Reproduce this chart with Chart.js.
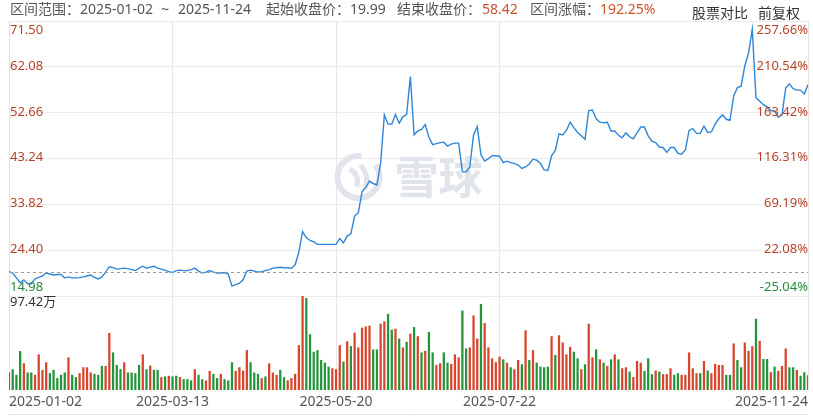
<!DOCTYPE html>
<html>
<head>
<meta charset="utf-8">
<script src="https://cdn.jsdelivr.net/npm/chart.js@4.4.1/dist/chart.umd.min.js"></script>
<style>
html, body { margin: 0; padding: 0; background: #fff; }
#wrap { position: relative; width: 813px; height: 416px; overflow: hidden; font-family: "Noto Sans", "Noto Sans CJK SC", sans-serif; }
#wrap canvas { position: absolute; left: 0; top: 0; }
.hd { position: absolute; top: 1px; font-size: 14px; line-height: 16px; color: #555; white-space: nowrap; }
.hd.up { color: #d0502c; }
.hd.tool { top: 5px; color: #333; }
</style>
</head>
<body>
<div id="wrap">
  <canvas id="kChart" width="813" height="416"></canvas>
  <span class="hd" style="left:10px">区间范围：</span>
  <span class="hd" style="left:80px">2025-01-02</span>
  <span class="hd" style="left:161px">~</span>
  <span class="hd" style="left:178px">2025-11-24</span>
  <span class="hd" style="left:266px">起始收盘价：</span>
  <span class="hd" style="left:350px">19.99</span>
  <span class="hd" style="left:397px">结束收盘价：</span>
  <span class="hd up" style="left:482px">58.42</span>
  <span class="hd" style="left:530px">区间涨幅：</span>
  <span class="hd up" style="left:600px">192.25%</span>
  <span class="hd tool" style="left:692px">股票对比</span>
  <span class="hd tool" style="left:758px">前复权</span>
</div>
<script>
// 区间数据 (前复权收盘价, 成交量 单位: 万)
const startClose = 19.99;
const priceTicks = [14.98, 24.40, 33.82, 43.24, 52.66, 62.08, 71.50];
const pctTicks = ['-25.04%', '22.08%', '69.19%', '116.31%', '163.42%', '210.54%', '257.66%'];
const volMax = 97.42;
const xTickIdx = [0, 44, 88, 132, 215];
const xTickText = ['2025-01-02', '2025-03-13', '2025-05-20', '2025-07-22', '2025-11-24'];

const closes = [
  19.99, 19.7, 18.7, 17.7, 18.3, 17.5, 17.5, 18.5, 18.8, 19.1,
  19.7, 19.5, 19.3, 19.4, 19.4, 18.7, 18.9, 18.7, 18.7, 18.75,
  18.9, 19.1, 19.3, 18.8, 18.5, 18.9, 19.9, 21.0, 20.8, 20.5,
  20.6, 20.7, 20.6, 20.4, 20.2, 20.7, 21.1, 20.7, 20.9, 21.1,
  20.7, 20.5, 20.3, 20.0, 19.8, 20.2, 20.3, 20.2, 20.2, 20.4,
  20.7, 20.1, 19.7, 19.9, 20.2, 19.9, 19.7, 19.7, 19.8, 19.5,
  17.0, 17.3, 17.6, 18.3, 20.1, 20.3, 20.1, 19.9, 20.0, 20.2,
  20.4, 20.7, 20.8, 20.9, 20.8, 20.8, 20.7, 21.4, 24.0, 28.2,
  27.0, 26.4, 26.1, 25.6, 25.6, 25.6, 25.6, 25.6, 25.6, 26.8,
  25.9, 27.3, 27.8, 31.4, 32.1, 36.4, 37.3, 38.6, 38.1, 37.8,
  42.3, 52.2, 50.3, 50.3, 52.3, 50.5, 51.8, 52.3, 60.1, 48.1,
  48.9, 49.2, 50.2, 47.6, 46.1, 46.3, 46.5, 46.6, 45.8, 46.2,
  46.4, 46.4, 40.5, 40.5, 41.5, 48.1, 49.8, 44.0, 42.7, 43.2,
  43.8, 43.8, 43.7, 42.4, 42.7, 42.4, 42.2, 41.9, 41.2, 41.5,
  42.1, 43.1, 42.9, 42.2, 40.9, 40.8, 43.8, 44.9, 48.3, 48.1,
  49.0, 50.7, 49.6, 48.6, 47.9, 47.2, 53.1, 53.2, 51.4, 50.7,
  50.6, 50.7, 48.9, 48.9, 48.0, 47.5, 48.5, 47.7, 47.3, 48.5,
  49.7, 49.7, 47.9, 46.8, 46.5, 45.6, 45.5, 44.5, 45.5, 45.5,
  44.3, 44.1, 45.0, 49.0, 49.4, 48.4, 48.4, 49.9, 48.6, 48.7,
  50.3, 51.4, 52.2, 51.3, 51.1, 56.1, 57.8, 58.1, 62.3, 64.9,
  69.8, 55.7, 55.0, 54.3, 53.8, 53.1, 53.0, 51.7, 52.2, 57.7,
  58.6, 57.6, 57.3, 57.3, 56.5, 58.42
];

const volumes = [
  17.8, 21.2, 15.4, 40.0, 27.3, 17.8, 17.8, 15.4, 36.6, 20.5,
  28.4, 17.1, 20.5, 12.0, 15.4, 17.8, 33.5, 15.4, 13.0, 17.1,
  23.2, 23.2, 17.8, 16.4, 15.4, 24.6, 24.6, 58.8, 38.6, 25.6,
  21.2, 28.4, 17.8, 17.8, 17.1, 25.6, 36.6, 21.2, 25.0, 20.5,
  20.5, 13.0, 13.7, 14.4, 13.7, 14.4, 13.0, 10.9, 10.9, 9.6,
  21.2, 15.4, 10.9, 9.6, 19.5, 16.4, 12.0, 16.4, 10.9, 9.6,
  28.4, 19.5, 23.2, 19.8, 41.0, 28.4, 17.8, 16.4, 12.0, 13.7,
  27.3, 17.8, 15.4, 20.5, 13.0, 9.6, 12.0, 16.4, 46.1, 97.42,
  95.0, 57.4, 39.3, 41.0, 30.8, 28.0, 23.9, 22.2, 21.2, 46.1,
  29.1, 50.2, 45.1, 59.1, 43.8, 64.3, 65.6, 66.3, 41.7, 41.7,
  68.4, 70.8, 78.6, 62.2, 63.2, 53.0, 43.8, 49.6, 58.1, 64.9,
  55.4, 38.6, 40.3, 59.8, 38.6, 25.6, 27.3, 38.6, 28.0, 26.7,
  36.6, 33.5, 82.0, 42.7, 43.8, 76.9, 53.0, 88.9, 69.0, 43.8,
  32.5, 28.4, 34.2, 31.4, 28.0, 23.2, 21.2, 30.8, 26.3, 61.5,
  30.8, 41.0, 28.0, 23.9, 23.2, 23.9, 55.4, 35.9, 56.4, 48.9,
  36.6, 44.4, 39.3, 32.5, 21.2, 26.3, 68.4, 33.5, 41.7, 31.4,
  28.0, 24.6, 31.4, 36.6, 31.4, 22.2, 23.2, 18.8, 13.0, 29.7,
  28.0, 19.5, 32.5, 16.1, 19.8, 18.8, 16.1, 16.1, 22.2, 15.4,
  17.1, 15.4, 15.4, 38.6, 22.2, 17.1, 17.1, 29.7, 19.8, 17.1,
  26.7, 25.6, 25.6, 15.4, 15.4, 47.9, 30.8, 23.2, 48.9, 40.3,
  45.1, 73.5, 50.6, 31.8, 31.8, 18.1, 23.9, 19.5, 24.6, 42.7,
  23.2, 23.2, 20.5, 14.4, 18.1, 15.0
];

// 1 = 红柱(上涨), 0 = 绿柱(下跌)
const upDays = [
  1, 0, 0, 0, 1, 0, 0, 1, 1, 1,
  1, 0, 0, 0, 0, 0, 1, 0, 0, 1,
  1, 1, 1, 0, 0, 0, 1, 1, 0, 0,
  0, 1, 0, 0, 0, 0, 1, 0, 1, 0,
  0, 1, 0, 1, 0, 0, 1, 0, 0, 0,
  1, 0, 0, 1, 1, 0, 0, 1, 0, 0,
  0, 1, 1, 1, 1, 0, 0, 0, 1, 0,
  1, 1, 1, 0, 0, 1, 1, 1, 1, 1,
  0, 0, 0, 0, 0, 0, 0, 1, 1, 1,
  0, 1, 0, 1, 1, 1, 1, 1, 0, 0,
  1, 1, 0, 0, 1, 0, 1, 0, 1, 0,
  1, 0, 1, 0, 0, 1, 1, 0, 0, 1,
  1, 1, 0, 0, 1, 1, 1, 0, 1, 1,
  1, 1, 1, 0, 1, 0, 1, 1, 0, 1,
  0, 1, 0, 0, 0, 0, 1, 0, 1, 1,
  1, 1, 0, 0, 1, 0, 1, 1, 0, 1,
  0, 1, 0, 1, 0, 1, 1, 0, 1, 1,
  1, 0, 0, 0, 1, 0, 1, 1, 1, 0,
  0, 1, 1, 1, 1, 1, 0, 1, 0, 1,
  1, 1, 1, 0, 0, 1, 0, 0, 1, 1,
  1, 0, 1, 0, 0, 1, 0, 1, 1, 1,
  0, 0, 1, 0, 0, 1
];

const labels = closes.map((_, i) => i);

const lineColor = '#2f86d6';
const volUp = '#d8442c';
const volDown = '#23943a';
const textUp = '#b8432a';
const textDown = '#2a8a3c';
const gridColor = '#ebebeb';
const labelFont = '13px "Noto Sans", "Noto Sans CJK SC", sans-serif';

const panelPlugin = {
    id: 'panel',
    beforeDatasetsDraw(chart) {
        // 雪球 水印
        const {ctx, chartArea: a} = chart;
        const cx = (a.left + a.right) / 2 - 50;
        const cy = 177;
        ctx.save();
        ctx.strokeStyle = '#e1e4ea';
        ctx.fillStyle = '#e1e4ea';
        ctx.lineWidth = 6;
        ctx.beginPath();
        ctx.arc(cx, cy, 21, -0.2 * Math.PI, 1.55 * Math.PI);
        ctx.stroke();
        ctx.lineWidth = 5;
        ctx.beginPath();
        ctx.moveTo(cx - 9, cy - 8);
        ctx.quadraticCurveTo(cx + 2, cy - 2, cx - 2, cy + 10);
        ctx.moveTo(cx + 2, cy - 12);
        ctx.quadraticCurveTo(cx + 12, cy, cx + 6, cy + 12);
        ctx.stroke();
        ctx.font = 'bold 44px "Noto Sans CJK SC", sans-serif';
        ctx.textAlign = 'left';
        ctx.textBaseline = 'middle';
        ctx.fillText('雪球', cx + 36, cy);
        ctx.restore();
    },
    afterDatasetsDraw(chart) {
        const {ctx, chartArea: a, scales} = chart;
        const py = scales.y;
        const vy = scales.yv;
        ctx.save();

        // 起始收盘价 虚线
        const ys = Math.round(py.getPixelForValue(startClose)) + 0.5;
        ctx.strokeStyle = '#9a9a9a';
        ctx.lineWidth = 1;
        ctx.setLineDash([3, 3]);
        ctx.beginPath();
        ctx.moveTo(a.left, ys);
        ctx.lineTo(a.right, ys);
        ctx.stroke();
        ctx.setLineDash([]);

        // 右边框和底线
        ctx.strokeStyle = '#e3e3e3';
        ctx.beginPath();
        ctx.moveTo(Math.round(a.right) + 0.5, a.top);
        ctx.lineTo(Math.round(a.right) + 0.5, a.bottom);
        ctx.moveTo(a.left, chart.height - 1.5);
        ctx.lineTo(a.right, chart.height - 1.5);
        ctx.stroke();

        // 价格和涨幅刻度
        ctx.font = labelFont;
        ctx.textBaseline = 'alphabetic';
        priceTicks.forEach((v, i) => {
            let y = Math.round(py.getPixelForValue(v));
            if (i === priceTicks.length - 1) y += 13;
            else if (i === 0) y -= 5;
            else y += 3;
            ctx.fillStyle = v >= startClose ? textUp : textDown;
            ctx.textAlign = 'left';
            ctx.fillText(v.toFixed(2), a.left + 1, y);
            ctx.textAlign = 'right';
            ctx.fillText(pctTicks[i], a.right, y);
        });

        // 成交量最大值
        ctx.fillStyle = '#333';
        ctx.textAlign = 'left';
        ctx.fillText(volMax.toFixed(2) + '万', a.left + 1, Math.round(vy.getPixelForValue(volMax)) + 10);
        ctx.restore();
    }
};

new Chart(document.getElementById('kChart'), {
    data: {
        labels: labels,
        datasets: [
            {
                type: 'line',
                data: closes,
                yAxisID: 'y',
                borderColor: lineColor,
                borderWidth: 1.4,
                pointRadius: 0,
                tension: 0
            },
            {
                type: 'bar',
                data: volumes,
                yAxisID: 'yv',
                backgroundColor: upDays.map(u => u ? volUp : volDown),
                barThickness: 1.6
            }
        ]
    },
    options: {
        responsive: false,
        animation: false,
        events: [],
        layout: { padding: { left: 9, right: 5, top: 21, bottom: 0 } },
        plugins: { legend: { display: false }, tooltip: { enabled: false } },
        scales: {
            x: {
                type: 'category',
                offset: false,
                afterBuildTicks: s => { s.ticks = xTickIdx.map(v => ({ value: v })); },
                afterFit: s => { s.height = 26; },
                grid: {
                    offset: false,
                    drawTicks: false,
                    color: c => (c.index > 0 && c.index < xTickIdx.length - 1) ? '#e6e6e6' : 'rgba(0,0,0,0)'
                },
                border: { display: false },
                ticks: {
                    autoSkip: false,
                    maxRotation: 0,
                    align: 'inner',
                    padding: 4,
                    color: '#555',
                    font: { family: '"Noto Sans", sans-serif', size: 14 },
                    callback: (v, i) => xTickText[i]
                }
            },
            // left boxes are stacked in reverse order, so the volume panel comes first here
            yv: {
                type: 'linear',
                position: 'left',
                stack: 'k',
                stackWeight: 94,
                min: 0,
                max: volMax,
                afterFit: s => { s.width = 0; },
                ticks: { display: false },
                grid: { display: false },
                border: { display: true, color: '#e3e3e3' }
            },
            y: {
                type: 'linear',
                position: 'left',
                stack: 'k',
                stackWeight: 275,
                min: priceTicks[0],
                max: priceTicks[priceTicks.length - 1],
                afterBuildTicks: s => { s.ticks = priceTicks.map(v => ({ value: v })); },
                afterFit: s => { s.width = 0; },
                ticks: { display: false },
                grid: { color: gridColor, drawTicks: false },
                border: { display: true, color: '#e3e3e3' }
            }
        }
    },
    plugins: [panelPlugin]
});
</script>
</body>
</html>
